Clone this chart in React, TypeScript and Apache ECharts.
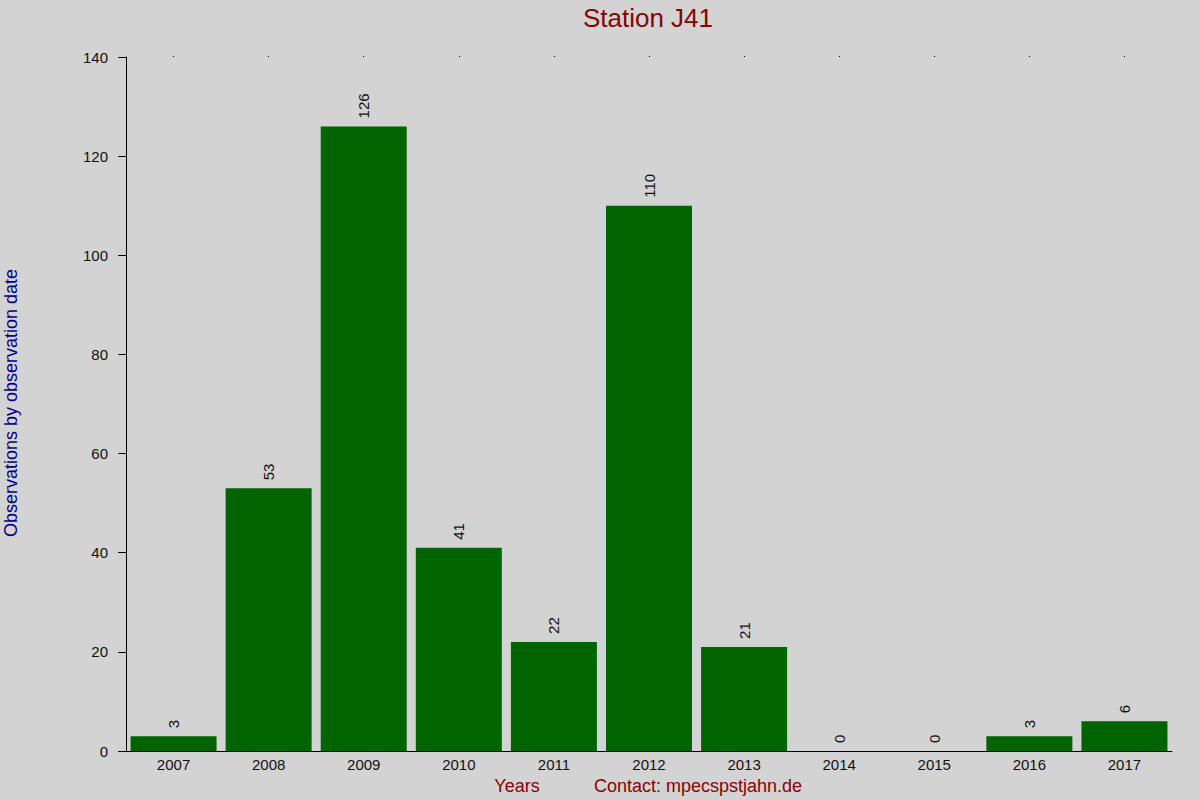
import { useEffect, useRef } from 'react';
import * as echarts from 'echarts';

const years = ['2007', '2008', '2009', '2010', '2011', '2012', '2013', '2014', '2015', '2016', '2017'];
const observations = [3, 53, 126, 41, 22, 110, 21, 0, 0, 3, 6];
const yTicks = { min: 0, max: 140, interval: 20 };

const font = '"Liberation Sans", Arial, sans-serif';

export default function App() {
  const chartRef = useRef<HTMLDivElement>(null);

  useEffect(() => {
    if (!chartRef.current) return;
    const chart = echarts.init(chartRef.current, null, { renderer: 'svg' });

    const option: echarts.EChartsOption = {
      animation: false,
      backgroundColor: '#d3d3d3',
      textStyle: { fontFamily: font },
      grid: { left: 126, top: 57, right: 28, bottom: 49 },
      xAxis: [
        {
          type: 'category',
          data: years,
          axisLine: { lineStyle: { color: '#000', width: 1 } },
          axisTick: { show: false },
          axisLabel: { color: '#111', fontSize: 15, margin: 6, fontFamily: font }
        },
        {
          // dotted ticks along the top edge
          type: 'category',
          data: years,
          position: 'top',
          axisLine: { show: false },
          axisTick: { show: true, alignWithLabel: true, length: 1, lineStyle: { color: '#000' } },
          axisLabel: { show: false }
        }
      ],
      yAxis: {
        type: 'value',
        min: yTicks.min,
        max: yTicks.max,
        interval: yTicks.interval,
        axisLine: { show: true, lineStyle: { color: '#000' } },
        axisTick: { show: true, length: 8, lineStyle: { color: '#000' } },
        splitLine: { show: false },
        axisLabel: { color: '#111', fontSize: 15, margin: 18, fontFamily: font }
      },
      graphic: [
        {
          type: 'text',
          x: 648,
          y: 18,
          style: {
            text: 'Station J41',
            fill: '#8b0000',
            fontSize: 26,
            fontFamily: font,
            align: 'center',
            verticalAlign: 'middle'
          }
        },
        {
          type: 'text',
          x: 11,
          y: 403,
          rotation: Math.PI / 2,
          style: {
            text: 'Observations by observation date',
            fill: '#00008b',
            fontSize: 18,
            fontFamily: font,
            align: 'center',
            verticalAlign: 'middle'
          }
        },
        {
          type: 'text',
          x: 517,
          y: 786,
          style: {
            text: 'Years',
            fill: '#8b0000',
            fontSize: 18,
            fontFamily: font,
            align: 'center',
            verticalAlign: 'middle'
          }
        },
        {
          type: 'text',
          x: 698,
          y: 786,
          style: {
            text: 'Contact: mpecspstjahn.de',
            fill: '#8b0000',
            fontSize: 18,
            fontFamily: font,
            align: 'center',
            verticalAlign: 'middle'
          }
        }
      ],
      series: [
        {
          type: 'bar',
          data: observations,
          barWidth: 86,
          itemStyle: { color: '#006400' },
          label: {
            show: true,
            position: 'top',
            rotate: 90,
            align: 'left',
            verticalAlign: 'middle',
            distance: 8,
            color: '#111',
            fontSize: 15,
            fontFamily: font
          }
        }
      ]
    };

    chart.setOption(option);
    return () => chart.dispose();
  }, []);

  return <div ref={chartRef} style={{ position: 'fixed', left: 0, top: 0, width: 1200, height: 800 }} />;
}
